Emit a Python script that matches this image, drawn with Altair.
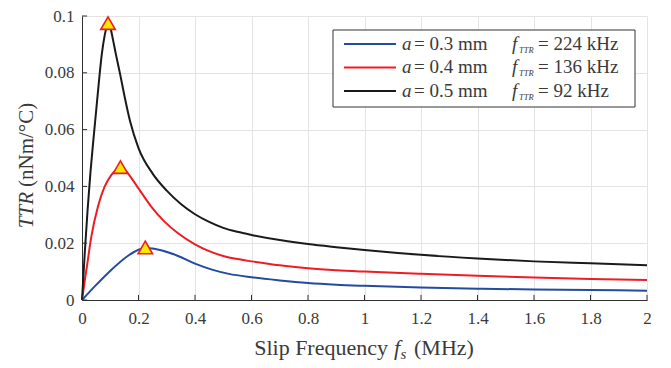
import altair as alt
import pandas as pd

# ---------------- data ----------------
series_names = ["a = 0.3 mm", "a = 0.4 mm", "a = 0.5 mm"]
a_values = ["= 0.3 mm", "= 0.4 mm", "= 0.5 mm"]
fttr_values = ["= 224 kHz", "= 136 kHz", "= 92 kHz"]
colors = ["#234ba0", "#ee1d23", "#1a1a1a"]

blue_f = [0, 0.045, 0.1035, 0.162, 0.2, 0.224, 0.25, 0.28, 0.34, 0.4, 0.46, 0.52,
          0.6, 0.7, 0.8, 0.9, 1.0, 1.2, 1.4, 1.6, 1.8, 2.0]
blue_v = [0, 0.0048, 0.0106, 0.0155, 0.0177, 0.0183, 0.0181, 0.0175, 0.0155, 0.0128,
          0.0107, 0.0092, 0.0080, 0.0069, 0.0060, 0.0054, 0.0050, 0.0044, 0.0040,
          0.0037, 0.0035, 0.0033]

red_f = [0, 0.01, 0.02, 0.033, 0.0565, 0.08, 0.1035, 0.12, 0.136, 0.15, 0.162, 0.18,
         0.2, 0.245, 0.292, 0.34, 0.4, 0.45, 0.5, 0.55, 0.6, 0.7, 0.8, 0.9, 1.0, 1.2,
         1.4, 1.6, 1.8, 2.0]
red_v = [0, 0.0069, 0.0136, 0.0223, 0.0329, 0.0399, 0.0440, 0.0458, 0.0466, 0.0460,
         0.0447, 0.0422, 0.0393, 0.0329, 0.0276, 0.0235, 0.0196, 0.0172, 0.0155,
         0.0144, 0.0136, 0.0122, 0.0112, 0.0105, 0.0100, 0.0092, 0.0085, 0.0079,
         0.0074, 0.0070]

black_f = [0, 0.01, 0.02, 0.03, 0.04, 0.05, 0.06, 0.07, 0.08, 0.092, 0.1, 0.11, 0.12,
           0.136, 0.15, 0.17, 0.2, 0.25, 0.3, 0.35, 0.4, 0.45, 0.5, 0.55, 0.6, 0.7,
           0.8, 0.9, 1.0, 1.2, 1.4, 1.6, 1.8, 2.0]
black_v = [0, 0.0170, 0.0320, 0.0450, 0.0560, 0.0665, 0.0770, 0.0865, 0.0930, 0.0972,
           0.0960, 0.0915, 0.0865, 0.0790, 0.0720, 0.0630, 0.0535, 0.0445, 0.0385,
           0.0338, 0.0302, 0.0275, 0.0254, 0.0240, 0.0229, 0.0211, 0.0197, 0.0186,
           0.0176, 0.0159, 0.0146, 0.0136, 0.0129, 0.0122]

peak_f = [0.224, 0.136, 0.092]
peak_v = [0.0185, 0.0468, 0.0975]

x_ticks = [0, 0.2, 0.4, 0.6, 0.8, 1, 1.2, 1.4, 1.6, 1.8, 2]
y_ticks = [0, 0.02, 0.04, 0.06, 0.08, 0.1]

# ---------------- tables ----------------
rows = []
for name, fs, vs in zip(series_names, [blue_f, red_f, black_f], [blue_v, red_v, black_v]):
    for f, v in zip(fs, vs):
        rows.append({"series": name, "f": f, "v": v})
curves = pd.DataFrame(rows)
peaks = pd.DataFrame({"series": series_names, "f": peak_f, "v": peak_v})
xt = pd.DataFrame({"f": x_ticks})
yt = pd.DataFrame({"v": y_ticks})

# ---------------- style ----------------
FONT = "Liberation Serif"
TXT = "#3a3a3a"
AXC = "#303030"
W, H = 565, 284

xscale = alt.Scale(domain=[0, 2], nice=False, zero=False)
yscale = alt.Scale(domain=[0, 0.1], nice=False, zero=False)
xaxis = alt.Axis(values=x_ticks, format="~g", title=None, ticks=False, labelPadding=10,
                 labelFont=FONT, labelFontSize=17, labelColor=TXT, labelFlush=False,
                 labelOverlap=False, grid=True, gridColor="#e4e4e4", gridWidth=1,
                 domainColor=AXC, domainWidth=1)
yaxis = alt.Axis(values=y_ticks, format="~g", title=None, ticks=False, labelPadding=8,
                 labelFont=FONT, labelFontSize=17, labelColor=TXT, labelFlush=False,
                 labelOverlap=False, grid=True, gridColor="#e4e4e4", gridWidth=1,
                 domainColor=AXC, domainWidth=1)
color = alt.Color("series:N", scale=alt.Scale(domain=series_names, range=colors), legend=None)

X = alt.X("f:Q", scale=xscale, axis=xaxis)
Y = alt.Y("v:Q", scale=yscale, axis=yaxis)

lines = alt.Chart(curves).mark_line(strokeWidth=2, interpolate="monotone").encode(
    x=X, y=Y, color=color, order=alt.Order("f:Q"))

pk = alt.Chart(peaks).mark_point(shape="triangle-up", filled=True, fill="#f7ea00",
                                 stroke="#ee1d23", strokeWidth=1.6, size=210,
                                 opacity=1).encode(x=X, y=Y)

xtick = alt.Chart(xt).mark_rule(color=AXC, strokeWidth=1).encode(
    x=X, y=alt.datum(0), y2=alt.datum(0.0018))
ytick = alt.Chart(yt).mark_rule(color=AXC, strokeWidth=1).encode(
    y=Y, x=alt.datum(0), x2=alt.datum(0.018))

one = pd.DataFrame({"k": [0]})


def txt(s, x, y, size, italic=False, align="left", angle=0, baseline="alphabetic"):
    kw = dict(font=FONT, fontSize=size, color=TXT, align=align, baseline=baseline)
    if italic:
        kw["fontStyle"] = "italic"
    if angle:
        kw["angle"] = angle
    return alt.Chart(one).mark_text(text=s, **kw).encode(x=alt.value(x), y=alt.value(y))


layers = [lines, pk, xtick, ytick]

# axis titles (mixed italic)
layers += [
    txt("Slip Frequency", 306, 339, 22, align="right"),
    txt("f", 312, 339, 22, italic=True),
    txt("s", 318.5, 343, 15, italic=True),
    txt("(MHz)", 332, 339, 22),
    txt("TTR", -49, 176, 21, italic=True, align="right", angle=270),
    txt("(nNm/°C)", -49, 171, 21, align="left", angle=270),
]

# legend box
box = alt.Chart(one).mark_rect(fill="white", stroke="#333333", strokeWidth=1).encode(
    x=alt.value(251), x2=alt.value(553), y=alt.value(14), y2=alt.value(91))
layers.append(box)
row_y = [28, 51.5, 75]
for i in range(3):
    ry = row_y[i]
    layers.append(alt.Chart(one).mark_rule(color=colors[i], strokeWidth=2).encode(
        x=alt.value(262), x2=alt.value(314), y=alt.value(ry)))
    layers += [
        txt("a", 320, ry + 5.5, 19, italic=True),
        txt(a_values[i], 332, ry + 5.5, 19),
        txt("f", 430, ry + 5.5, 19, italic=True),
        txt("TTR", 437, ry + 8.5, 8.5, italic=True),
        txt(fttr_values[i], 456, ry + 5.5, 19),
    ]

chart = alt.layer(*layers).properties(
    width=W, height=H,
    autosize=alt.AutoSizeParams(type="none"),
    padding={"left": 74, "top": 8, "right": 16, "bottom": 64},
).configure_view(stroke=None)

chart.save("out.html", embed_options={"renderer": "svg", "actions": False})
